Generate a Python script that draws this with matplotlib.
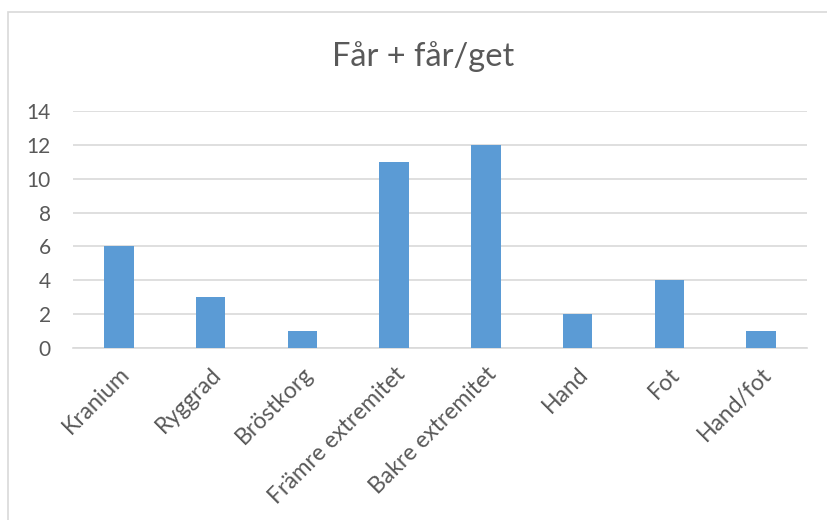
import matplotlib.pyplot as plt
from matplotlib.patches import Rectangle

categories = ["Kranium", "Ryggrad", "Bröstkorg", "Främre extremitet",
              "Bakre extremitet", "Hand", "Fot", "Hand/fot"]
counts = [6, 3, 1, 11, 12, 2, 4, 1]
yticks = [0, 2, 4, 6, 8, 10, 12, 14]

plt.rcParams['font.family'] = ['Lato', 'DejaVu Sans']
W, H = 828, 520
fig = plt.figure(figsize=(W / 100, H / 100), dpi=100)

# plot area in pixel terms
left, right, top, bottom = 73, 807, 111, 348
ax = fig.add_axes([left / W, 1 - bottom / H, (right - left) / W, (bottom - top) / H])

x = list(range(len(categories)))
ax.bar(x, counts, width=0.32, color="#5B9BD5", zorder=3)

ax.set_xlim(-0.5, len(categories) - 0.5)
ax.set_ylim(0, 14)
ax.set_yticks(yticks)
ax.set_yticklabels([str(t) for t in yticks])
ax.grid(axis="y", color="#D9D9D9", linewidth=1.2, zorder=0)
for s in ["top", "right", "left"]:
    ax.spines[s].set_visible(False)
ax.spines["bottom"].set_color("#D9D9D9")
ax.spines["bottom"].set_linewidth(1.2)
ax.tick_params(axis="both", length=0, colors="#595959")
ax.tick_params(axis="y", pad=16, labelsize=15)
ax.set_xticks(x)
ax.set_xticklabels(categories, rotation=45, ha="right", rotation_mode="anchor")
ax.tick_params(axis="x", pad=11, labelsize=16.5)

fig.text(423 / W, 1 - 57 / H, "Får + får/get", ha="center", va="center",
         fontsize=23.5, color="#595959")

# outer chart border
fig.patches.append(Rectangle((8 / W, -0.05), 1.1, 1 - 12 / H + 0.05,
                             transform=fig.transFigure, fill=False,
                             edgecolor="#D9D9D9", linewidth=1.2))

fig.savefig("out.png", dpi=100)
